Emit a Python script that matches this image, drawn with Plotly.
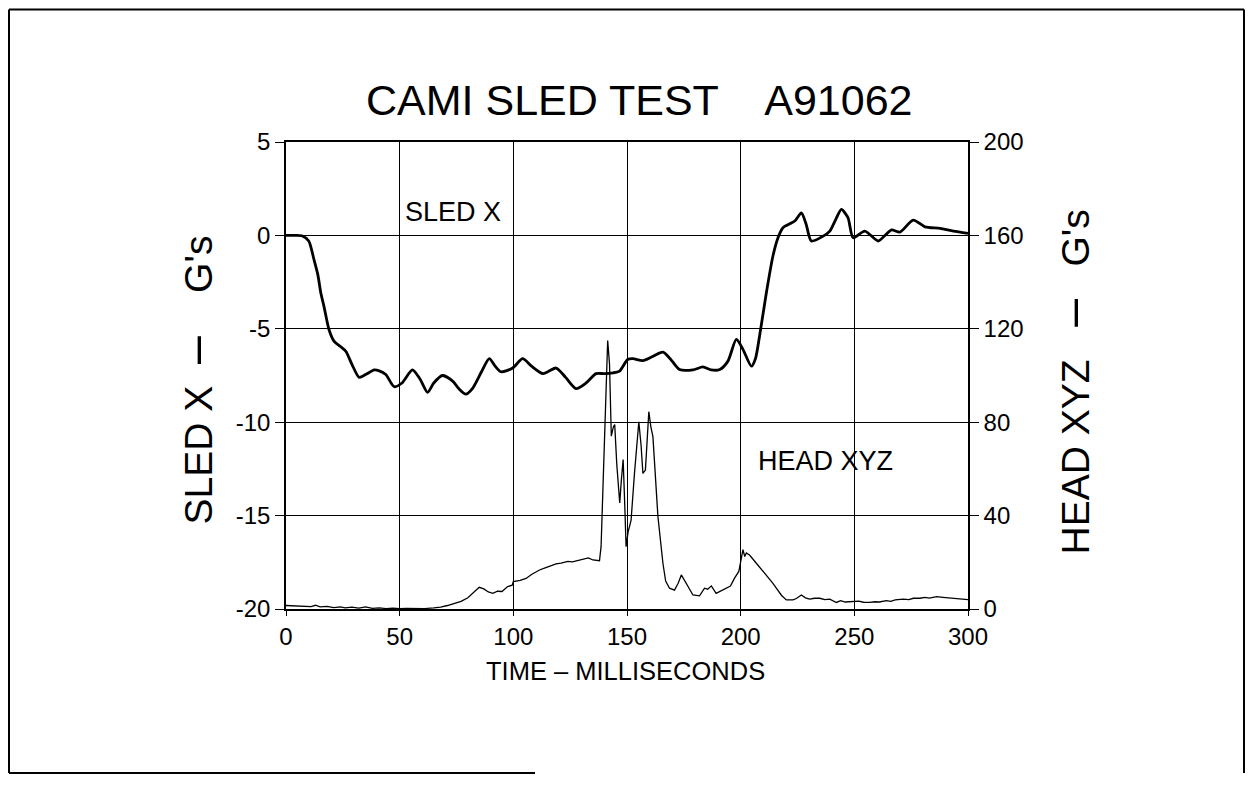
import plotly.graph_objects as go

# ---- data ----
sled_t = [0, 3, 7, 10, 12.3, 14, 15.3, 16.7, 18.9, 21.1, 24, 26.3, 29, 32.2, 35, 38.8, 41, 43.9,
          47.6, 51, 55.6, 59, 62.3, 65, 68.8, 73.3, 76, 79.1, 82, 86, 89.4, 92, 94.6, 99.7, 104.1,
          108, 113.1, 118.8, 123, 127.6, 132, 136.4, 140, 143.8, 146.7, 150.3, 152.6, 157, 161,
          165.8, 169, 173.1, 179, 183.4, 187, 190.8, 194.4, 198.1, 201, 204.7, 206.5, 208.3, 211.3,
          214.2, 216.5, 218.6, 223.8, 226.7, 228.8, 231.1, 236.3, 239.2, 242, 244.3, 247.2, 249.5,
          254.6, 260.5, 263.5, 266.4, 270.1, 275.9, 281.1, 287.7, 293.6, 300]
sled_x = [0, 0, -0.02, -0.3, -1.29, -2.1, -3.07, -3.8, -5.04, -5.66, -5.95, -6.2, -6.9, -7.6, -7.45,
          -7.2, -7.25, -7.45, -8.1, -7.9, -7.2, -7.7, -8.4, -7.9, -7.5, -7.8, -8.2, -8.5, -8.2, -7.3,
          -6.6, -7.0, -7.3, -7.1, -6.6, -7.0, -7.4, -7.1, -7.6, -8.2, -7.9, -7.4, -7.4, -7.36, -7.27,
          -6.64, -6.6, -6.7, -6.5, -6.25, -6.6, -7.18, -7.2, -7.04, -7.2, -7.18, -6.73, -5.57, -6.1,
          -7.0, -6.6, -5.4, -3.07, -1.1, -0.1, 0.41, 0.77, 1.21, 0.6, -0.3, -0.04, 0.23, 0.9, 1.39,
          0.95, -0.13, 0.23, -0.3, 0.0, 0.29, 0.18, 0.82, 0.46, 0.38, 0.23, 0.11]

head_t = [0, 2, 5, 8, 11, 13, 15, 18, 21, 24, 26, 29, 32, 35, 38, 41, 44, 47, 50, 53, 57, 61, 65,
          68, 71, 74, 77, 80, 83, 85, 87, 89, 91, 93, 95, 97.5, 99.5, 100, 103, 105.6, 108, 111.5,
          114, 116, 118.8, 121, 124, 126, 129, 131, 133, 135, 137.9, 138.6, 139.5, 140.1, 140.8,
          141.5, 142.3, 143.1, 144, 144.6, 145.5, 146.8, 147.5, 148.3, 149, 149.6, 150.5, 151.8,
          153.3, 155.2, 156.2, 157, 158.1, 159.6, 160.5, 161.4, 163.6, 165.8, 167, 168.7, 170.9,
          172.5, 173.9, 175.5, 176.8, 179, 181.9, 183, 184.1, 185.5, 187.1, 189.2, 191.5, 193.6,
          195.5, 197.3, 199.2, 201, 201.8, 202.5, 204, 206.9, 210, 212, 214.2, 216, 218, 220.1, 223,
          224.5, 226.7, 228.5, 230.4, 232.5, 234.8, 237, 239.2, 242.1, 244, 246, 249.5, 252, 254,
          256.8, 259, 261, 264.1, 266, 268, 271.5, 274, 276, 278.9, 281, 283, 286.2, 289, 291,
          293.6, 296, 298.7, 300]
head_xyz = [1.5, 1.4, 1.5, 1.3, 1.0, 1.6, 0.9, 1.1, 0.6, 0.9, 0.5, 0.8, 0.4, 0.9, 0.3, 0.5, 0.2, 0.4,
            0.1, 0.3, 0.1, 0.2, 0.5, 0.8, 1.5, 2.5, 3.3, 4.8, 7.5, 9.3, 8.6, 7.3, 6.7, 7.6, 7.5, 9.6,
            10.2, 11.7, 12.3, 13.1, 14.8, 16.7, 17.6, 18.2, 19.3, 19.6, 20.4, 20.2, 21.0, 21.4, 21.9,
            21.0, 20.7, 26.7, 55, 79.6, 95, 115, 105, 74, 78, 79, 62, 45.4, 55, 64, 45, 26.7, 33,
            38.1, 58.2, 80.2, 70, 58.1, 59.5, 84.5, 78, 73.8, 39.6, 19.6, 12, 8.9, 8.1, 11, 14.6, 12,
            9.6, 6.0, 5.6, 7.2, 8.9, 8.5, 9.9, 6.7, 7.8, 8.9, 9.8, 13.2, 16.1, 25.4, 22.5, 24, 23,
            19.6, 16, 13.5, 11, 8.5, 5.8, 3.9, 3.9, 4.5, 6.0, 4.8, 4.2, 4.6, 4.6, 4.0, 4.2, 2.8, 3.6,
            3.0, 3.2, 3.4, 2.9, 2.8, 3.1, 3.0, 3.6, 3.3, 3.9, 4.2, 4.0, 4.6, 4.6, 5.0, 4.7, 5.3, 5.0,
            4.8, 4.6, 4.3, 3.9, 4.0]

x_ticks = [0, 50, 100, 150, 200, 250, 300]
left_ticks = [-20, -15, -10, -5, 0, 5]
left_tick_text = ["-20", "-15", "-10", "-5", "0", "5"]
right_ticks = [0, 40, 80, 120, 160, 200]

DASH = '<span style="font-size:50px">\u2013</span>'
TITLE = "CAMI SLED TEST\u00a0\u00a0\u00a0 A91062"
LEFT_TITLE = "SLED X\u00a0 " + DASH + "\u00a0\u00a0\u00a0 G's"
RIGHT_TITLE = "HEAD XYZ\u00a0\u00a0 " + DASH + "\u00a0\u00a0 G's"
X_TITLE = "TIME \u2013 MILLISECONDS"

SANS = "Liberation Sans, Arial, sans-serif"

fig = go.Figure()
fig.add_trace(go.Scatter(x=sled_t, y=sled_x, mode="lines", name="SLED X",
                         line=dict(color="black", width=2.8, shape="spline", smoothing=0.7),
                         yaxis="y"))
fig.add_trace(go.Scatter(x=head_t, y=head_xyz, mode="lines", name="HEAD XYZ",
                         line=dict(color="black", width=1.3), yaxis="y2"))

axis_common = dict(showline=True, linecolor="black", linewidth=1.6, ticks="outside",
                   tickcolor="black", tickwidth=1.3, zeroline=False,
                   tickfont=dict(family=SANS, size=24, color="black"))

# page has an 8px body margin: figure is shrunk so the plot area lands at
# page x 286..968, y 142..609
fig.update_layout(
    width=1245, height=779, autosize=False,
    margin=dict(l=278, r=285, t=134, b=178),
    paper_bgcolor="white", plot_bgcolor="white",
    showlegend=False,
    xaxis=dict(range=[0, 300], tickvals=x_ticks, ticklen=5, showgrid=True,
               gridcolor="black", gridwidth=1.3, mirror=True, **axis_common),
    yaxis=dict(range=[-20, 5], tickvals=left_ticks, ticktext=left_tick_text, ticklen=9,
               showgrid=True, gridcolor="black", gridwidth=1.1, **axis_common),
    yaxis2=dict(range=[0, 200], tickvals=right_ticks, ticklen=9, overlaying="y", side="right",
                showgrid=False, **axis_common),
    annotations=[
        dict(text=TITLE, x=0.519, y=1.09, xref="paper", yref="paper", showarrow=False,
             font=dict(family=SANS, size=43, color="black"), xanchor="center", yanchor="middle"),
        dict(text=LEFT_TITLE, x=-0.133, y=0.49, xref="paper", yref="paper", showarrow=False,
             textangle=-90, font=dict(family=SANS, size=39, color="black"),
             xanchor="center", yanchor="middle"),
        dict(text=RIGHT_TITLE, x=1.153, y=0.486, xref="paper", yref="paper", showarrow=False,
             textangle=-90, font=dict(family=SANS, size=39, color="black"),
             xanchor="center", yanchor="middle"),
        dict(text=X_TITLE, x=0.4985, y=-0.1328, xref="paper", yref="paper", showarrow=False,
             font=dict(family=SANS, size=25.5, color="black"), xanchor="center", yanchor="middle"),
        dict(text="SLED X", x=73.4, y=1.26, xref="x", yref="y", showarrow=False,
             font=dict(family=SANS, size=27, color="black"), xanchor="center", yanchor="middle"),
        dict(text="HEAD XYZ", x=237.5, y=-12.07, xref="x", yref="y", showarrow=False,
             font=dict(family=SANS, size=27, color="black"), xanchor="center", yanchor="middle"),
    ],
)

# outer page border (paper coords relative to plot area, from page pixels)
def px_x(p):
    return (p - 286) / 682.0

def px_y(p):
    return (609 - p) / 467.0

border = dict(type="line", xref="paper", yref="paper", line=dict(color="black", width=2))
fig.add_shape(x0=px_x(9), x1=px_x(1244), y0=px_y(9.5), y1=px_y(9.5), **border)
fig.add_shape(x0=px_x(9), x1=px_x(9), y0=px_y(9.5), y1=px_y(773), **border)
fig.add_shape(x0=px_x(1244), x1=px_x(1244), y0=px_y(9.5), y1=px_y(773), **border)
fig.add_shape(x0=px_x(9), x1=px_x(535), y0=px_y(773), y1=px_y(773), **border)

fig.write_html("out.html")
